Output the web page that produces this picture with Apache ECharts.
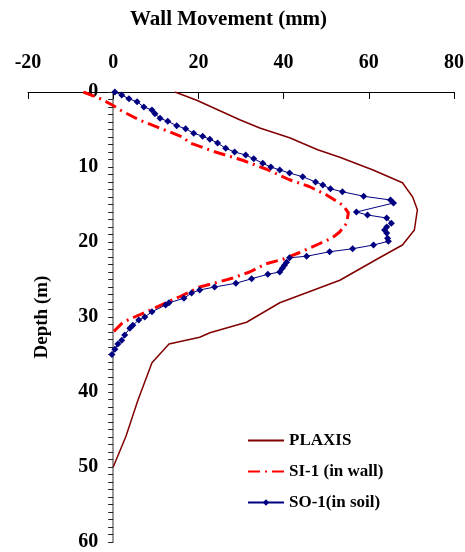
<!DOCTYPE html>
<html>
<head>
<meta charset="utf-8">
<script src="https://cdn.jsdelivr.net/npm/echarts@6/dist/echarts.min.js"></script>
<style>
    html, body { margin: 0; padding: 0; background: #fff; }
    #container { width: 465px; height: 552px; }
</style>
</head>
<body>
<div id="container"></div>
<script>
// wall movement (mm) vs depth (m)
var xTicks = [-20, 0, 20, 40, 60, 80];
var depthTicks = [0, 10, 20, 30, 40, 50, 60];

var plaxisMove = [14.5, 19.6, 29.7, 34.4, 41.4, 48.0, 53.2, 61.0, 67.9, 70.3, 71.4, 70.7, 67.9, 62.5, 53.2, 39.1, 31.3, 22.7, 20.3, 13.1, 9.1, 5.8, 3.0, 0];
var plaxisDepth = [0, 1.1, 3.7, 4.8, 6.1, 7.7, 8.7, 10.4, 12.1, 14.0, 15.7, 18.4, 20.4, 22.1, 25.1, 28.1, 30.7, 32.1, 32.7, 33.6, 36.1, 41.1, 45.9, 50];

var si1Move = [-7, -3, -0.3, 1.6, 6, 10.9, 16.3, 18, 24, 30.4, 36, 41.4, 46, 50, 53.9, 55.2, 54.8, 53.1, 51.3, 48.5, 43.8, 39.8, 35.9, 32, 28.1, 24.3, 20.3, 15.6, 12.8, 8.6, 5, 2.3, 0];
var si1Depth = [0, 0.9, 1.7, 2.4, 3.7, 4.8, 6.0, 6.8, 8.0, 9.1, 10.3, 11.7, 12.6, 13.7, 15.1, 16.1, 17.5, 18.7, 19.5, 20.2, 21.4, 22.3, 22.9, 24.0, 24.8, 25.4, 26.0, 27.3, 28.0, 29.1, 30.0, 30.7, 32.0];

var so1Move = [0.4, 2.0, 3.7, 5.6, 7.2, 9.1, 9.8, 11, 12.8, 14.9, 17, 18.9, 21, 22.7, 24.5, 26.4, 28.5, 31.1, 33, 35.1, 37, 39.1, 41.4, 44.5, 47.5, 49.2, 51, 53.8, 58.8, 65.1, 65.8, 57.1, 59.7, 64.2, 65.3, 64.2, 63.7, 64.2, 64.4, 64.6, 61.1, 56.2, 50.8, 45.4, 41.4, 40.7, 40.2, 39.7, 39.1, 36.3, 32.5, 28.8, 23.8, 20.3, 18.4, 16.6, 13.1, 12.3, 9.1, 7.4, 6.0, 4.6, 3.9, 2.7, 2.0, 1.1, 0.4, -0.3];
var so1Depth = [0, 0.4, 0.9, 1.3, 2.0, 2.4, 2.9, 3.5, 3.9, 4.5, 4.9, 5.5, 5.9, 6.3, 6.8, 7.5, 8.0, 8.4, 8.9, 9.5, 10.0, 10.4, 10.8, 11.3, 12.0, 12.4, 12.9, 13.3, 13.9, 14.4, 14.8, 16.0, 16.4, 16.8, 17.5, 18.0, 18.4, 18.8, 19.5, 19.9, 20.4, 20.9, 21.3, 21.9, 22.1, 22.7, 23.1, 23.5, 24.0, 24.3, 24.9, 25.5, 26.0, 26.4, 26.8, 27.5, 28.1, 28.4, 29.3, 30.0, 30.4, 31.1, 31.5, 32.4, 33.1, 33.6, 34.3, 35.0];

var seriesNames = ['PLAXIS', 'SI-1 (in wall)', 'SO-1(in soil)'];

var serif = '"Liberation Serif", "Times New Roman", serif';

function pairs(xs, ys) {
    return xs.map(function (x, i) {
        return [x, ys[i]];
    });
}

var gridLeft = 28;
var gridRight = 11;
var plotWidth = 465 - gridLeft - gridRight;
// the depth axis sits at x = 0, so shift it right from the grid edge
var zeroShift = plotWidth * (0 - xTicks[0]) / (xTicks[xTicks.length - 1] - xTicks[0]);

var myChart = echarts.init(document.getElementById('container'));

// legend entries: no marker for the two plain lines
var noMarker = { color: 'rgba(0,0,0,0)', borderColor: 'rgba(0,0,0,0)', borderWidth: 0 };

var option = {
    backgroundColor: '#fff',
    animation: false,
    title: {
        text: 'Wall Movement (mm)',
        left: 130,
        top: 9,
        padding: 0,
        textStyle: {
            fontFamily: serif,
            fontWeight: 'bold',
            fontSize: 21,
            color: '#000'
        }
    },
    grid: {
        left: gridLeft,
        right: gridRight,
        top: 92,
        bottom: 10,
        outerBoundsMode: 'none'
    },
    legend: {
        data: [
            { name: seriesNames[0], itemStyle: noMarker },
            { name: seriesNames[1], itemStyle: noMarker },
            { name: seriesNames[2] }
        ],
        orient: 'vertical',
        left: 242,
        top: 427,
        itemWidth: 36,
        itemHeight: 8,
        itemGap: 14,
        textStyle: {
            fontFamily: serif,
            fontWeight: 'bold',
            fontSize: 17,
            color: '#000'
        }
    },
    xAxis: {
        type: 'value',
        position: 'top',
        min: xTicks[0],
        max: xTicks[xTicks.length - 1],
        interval: 20,
        axisLine: { onZero: false, lineStyle: { color: '#000', width: 1 } },
        axisTick: { inside: true, length: 7, lineStyle: { color: '#000' } },
        axisLabel: {
            margin: 19,
            fontFamily: serif,
            fontWeight: 'bold',
            fontSize: 20,
            color: '#000'
        },
        splitLine: { show: false }
    },
    yAxis: {
        type: 'value',
        inverse: true,
        min: depthTicks[0],
        max: depthTicks[depthTicks.length - 1],
        interval: 10,
        offset: -zeroShift,
        name: 'Depth (m)',
        nameLocation: 'middle',
        nameGap: 62,
        nameMoveOverlap: false,
        nameTextStyle: {
            fontFamily: serif,
            fontWeight: 'bold',
            fontSize: 19,
            color: '#000'
        },
        axisLine: { onZero: false, lineStyle: { color: '#777', width: 1.5 } },
        axisTick: { length: 5, lineStyle: { color: '#222' } },
        minorTick: { show: true, splitNumber: 10, length: 5, lineStyle: { color: '#222' } },
        axisLabel: {
            margin: 15,
            fontFamily: serif,
            fontWeight: 'bold',
            fontSize: 20,
            color: '#000'
        },
        splitLine: { show: false }
    },
    series: [
        {
            name: seriesNames[0],
            type: 'line',
            data: pairs(plaxisMove, plaxisDepth),
            symbol: 'none',
            color: '#800000',
            lineStyle: { color: '#800000', width: 1.5 }
        },
        {
            name: seriesNames[1],
            type: 'line',
            data: pairs(si1Move, si1Depth),
            symbol: 'none',
            color: '#ff0000',
            lineStyle: { color: '#ff0000', width: 3, type: [12, 5, 2, 5] }
        },
        {
            name: seriesNames[2],
            type: 'line',
            data: pairs(so1Move, so1Depth),
            symbol: 'diamond',
            symbolSize: 7,
            color: '#000080',
            itemStyle: { color: '#000080' },
            lineStyle: { color: '#000080', width: 1 }
        }
    ]
};

myChart.setOption(option);
</script>
</body>
</html>
